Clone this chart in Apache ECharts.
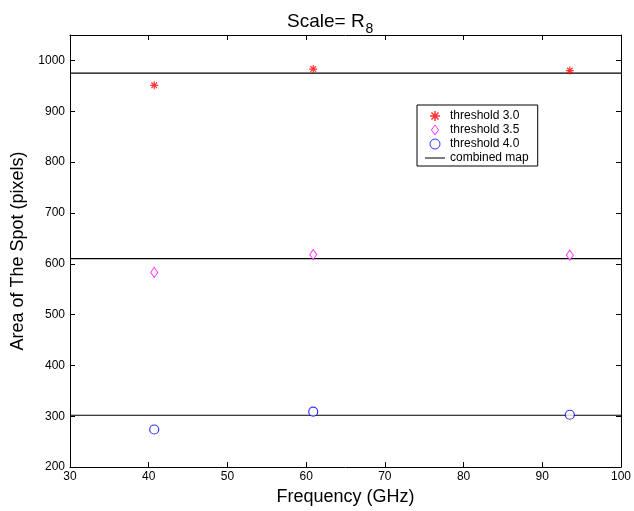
<!DOCTYPE html>
<html>
<head>
<meta charset="utf-8">
<script src="https://cdn.jsdelivr.net/npm/echarts@6/dist/echarts.min.js"></script>
<style>html,body{margin:0;padding:0;background:#fff}#c{width:634px;height:511px}</style>
</head>
<body>
<div id="c"></div>
<script>
var frequencies = [40.7, 60.9, 93.5];
var thr30 = [951, 983, 980];
var thr35 = [583, 618, 617];
var thr40 = [274, 309, 303];
var combinedLevels = [975, 610, 302];
var xRange = [30, 100];
var yRange = [200, 1050];
var seriesNames = ['threshold 3.0', 'threshold 3.5', 'threshold 4.0', 'combined map'];

var FONT = '"Liberation Sans", Arial, sans-serif';
var asterisk = 'path://M0,8.5 L20,8.5 L20,11.5 L0,11.5 Z M8.5,0 L11.5,0 L11.5,20 L8.5,20 Z M1.9,4 L4,1.9 L18.1,16 L16,18.1 Z M16,1.9 L18.1,4 L4,18.1 L1.9,16 Z';
var diamondIcon = 'path://M5,0 L10,7 L5,14 L0,7 Z';
var lineIcon = 'path://M0,0 L0,0 Z M0,4.5 L20,4.5 L20,5.5 L0,5.5 Z M20,10 L20,10 Z';

function pts(vals) { return frequencies.map(function (f, i) { return [f, vals[i]]; }); }

var series = [
  { name: seriesNames[0], type: 'scatter', data: pts(thr30), symbol: asterisk, symbolSize: 8,
    itemStyle: { color: '#ff0000' } },
  { name: seriesNames[1], type: 'scatter', data: pts(thr35), symbol: 'diamond', symbolSize: [7, 10],
    itemStyle: { color: '#ffffff', borderColor: '#ff00ff', borderWidth: 1 } },
  { name: seriesNames[2], type: 'scatter', data: pts(thr40), symbol: 'circle', symbolSize: 9,
    itemStyle: { color: '#ffffff', borderColor: '#0000ff', borderWidth: 1.2 } }
];
combinedLevels.forEach(function (v) {
  series.push({ name: seriesNames[3], type: 'line', data: [[xRange[0], v], [xRange[1], v]],
    symbol: 'none', lineStyle: { color: '#000', width: 1.2 }, itemStyle: { color: '#000' }, z: 1 });
});

var axisCommon = {
  axisLine: { show: true, onZero: false, lineStyle: { color: '#000', width: 1 } },
  axisTick: { show: true, inside: true, length: 5, lineStyle: { color: '#000' } },
  splitLine: { show: false }
};

var chart = echarts.init(document.getElementById('c'));
chart.setOption({
  animation: false,
  backgroundColor: '#fff',
  textStyle: { fontFamily: FONT },
  title: {
    text: '{a|Scale= R}{s|8}',
    left: 282, top: 3,
    textStyle: {
      fontWeight: 'normal',
      rich: {
        a: { fontFamily: FONT, fontSize: 19, fontWeight: 'normal', color: '#000' },
        s: { fontFamily: FONT, fontSize: 14, fontWeight: 'normal', color: '#000', verticalAlign: 'bottom', padding: [14, 0, 0, 1] }
      }
    }
  },
  grid: { left: 70, right: 11, top: 35, bottom: 39 },
  legend: {
    orient: 'vertical', left: 417, top: 105,
    data: [
      { name: seriesNames[0] },
      { name: seriesNames[1], icon: diamondIcon, itemStyle: { color: '#ffffff', borderColor: '#ff00ff', borderWidth: 1 } },
      { name: seriesNames[2], itemStyle: { color: '#ffffff', borderColor: '#0000ff', borderWidth: 1 } },
      { name: seriesNames[3], icon: lineIcon, itemStyle: { color: '#000', borderWidth: 0 } }
    ],
    backgroundColor: '#fff', borderColor: '#000', borderWidth: 1, borderRadius: 0,
    padding: [5, 9, 2, 8],
    itemWidth: 20, itemHeight: 10, itemGap: 2, itemTextGap: 9,
    textStyle: { fontFamily: FONT, fontSize: 12, lineHeight: 12, color: '#000' }
  },
  xAxis: [
    Object.assign({ type: 'value', min: xRange[0], max: xRange[1], interval: 10, position: 'bottom',
      name: 'Frequency (GHz)', nameLocation: 'middle', nameGap: 16,
      nameTextStyle: { fontFamily: FONT, fontSize: 18, color: '#000' },
      axisLabel: { color: '#000', fontFamily: FONT, fontSize: 12, margin: 4 } }, axisCommon),
    Object.assign({ type: 'value', min: xRange[0], max: xRange[1], interval: 10, position: 'top',
      axisLabel: { show: false } }, axisCommon)
  ],
  yAxis: [
    Object.assign({ type: 'value', min: yRange[0], max: yRange[1], interval: 100, position: 'left',
      name: 'Area of The Spot (pixels)', nameLocation: 'middle', nameGap: 43,
      nameTextStyle: { fontFamily: FONT, fontSize: 18, color: '#000' },
      axisLabel: { color: '#000', fontFamily: FONT, fontSize: 12, margin: 5,
        formatter: function (v) { return v % 100 === 0 ? String(v) : ''; } } }, axisCommon),
    Object.assign({ type: 'value', min: yRange[0], max: yRange[1], interval: 100, position: 'right',
      axisLabel: { show: false } }, axisCommon)
  ],
  series: series
});
</script>
</body>
</html>
